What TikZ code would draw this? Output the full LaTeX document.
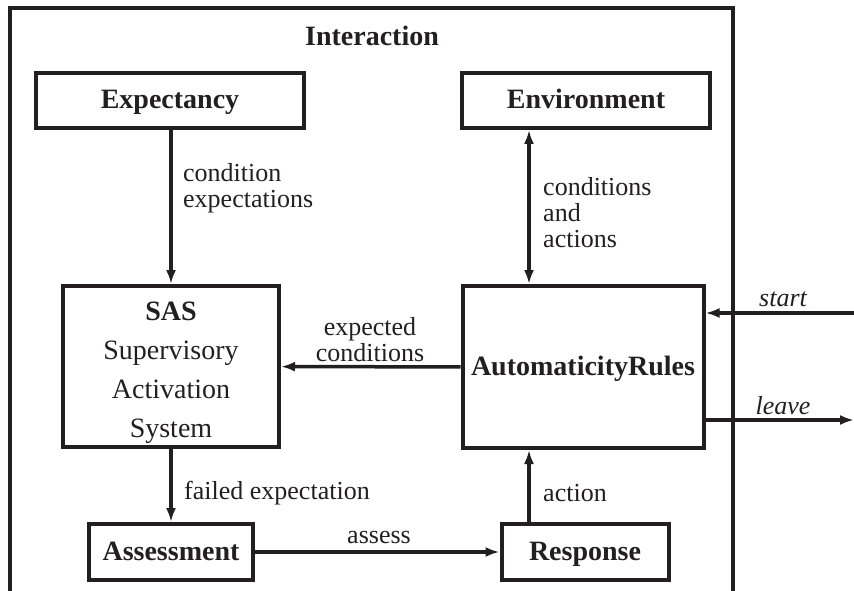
\documentclass[tikz,border=0pt]{standalone}
\usepackage{fontspec}
\setmainfont{Liberation Serif}
\usetikzlibrary{arrows.meta}
\definecolor{ink}{RGB}{35,31,32}

\begin{document}
\begin{tikzpicture}[x=1pt, y=-1pt, ink,
    box/.style = {draw, line width=4pt, inner sep=0pt, text height=21pt, text depth=4pt,
                  font=\fontsize{28}{39}\selectfont\bfseries},
    lbl/.style = {inner sep=0pt, font=\fontsize{26}{26}\selectfont, align=left},
    tip/.tip = {Latex[length=14pt, width=10pt]},
    arr/.style = {line width=3.5pt, -tip}]
    \useasboundingbox (0,0) rectangle (854,591);
    % outer frame, open at the bottom
    \draw[line width=4pt] (10,591) -- (10,8) -- (733,8) -- (733,591);
    \node[font=\fontsize{28}{28}\selectfont\bfseries] (inter) at (372,36) {Interaction};

    \node[box, minimum width=268pt, minimum height=55pt] (exp) at (170,100.5) {Expectancy};
    \node[box, minimum width=248pt, minimum height=55pt] (env) at (586,100.5) {Environment};
    \node[box, minimum width=216pt, minimum height=161pt] (sas) at (171,366.5) {};
    \node[align=center, inner sep=0pt, font=\fontsize{28}{39}\selectfont] (sastext) at ([yshift=-6pt]sas.center)
        {\textbf{SAS}\\Supervisory\\Activation\\System};
    \node[box, minimum width=241pt, minimum height=162pt] (auto) at (583,367) {AutomaticityRules};
    \node[box, minimum width=164pt, minimum height=56pt] (assess) at (171,552) {Assessment};
    \node[box, minimum width=167pt, minimum height=56pt] (resp) at (585,552) {Response};

    \coordinate (envx) at (529,0);
    \coordinate (actx) at (529,0);
    \coordinate (startpt) at (854,313);
    \coordinate (leavept) at (854,420);

    \draw[arr] (exp.south -| sas) -- (sas);
    \draw[arr, tip-tip] (env.south -| envx) -- (auto.north -| envx);
    \draw[arr] (auto) -- (sas);
    \draw[arr] (sas) -- (assess);
    \draw[arr] (assess) -- (resp);
    \draw[arr] (resp.north -| actx) -- (auto.south -| actx);
    \draw[arr] (startpt) -- (auto.east |- startpt);
    \draw[arr] (auto.east |- leavept) -- (leavept);

    \node[lbl, anchor=west] (lexp) at (183,188) {condition\\expectations};
    \node[lbl, anchor=west] (lenv) at (543,213) {conditions\\and\\actions};
    \node[lbl, align=center] (lcond) at (370,340) {expected\\conditions};
    \node[lbl, anchor=west] (lfail) at (184,493) {failed expectation};
    \node[lbl] (lassess) at (379,537) {assess};
    \node[lbl, anchor=west] (lact) at (543,493) {action};
    \node[lbl, font=\fontsize{26}{26}\selectfont\itshape] (lstart) at (783,299) {start};
    \node[lbl, font=\fontsize{26}{26}\selectfont\itshape] (lleave) at (783,406) {leave};
\end{tikzpicture}
\end{document}
